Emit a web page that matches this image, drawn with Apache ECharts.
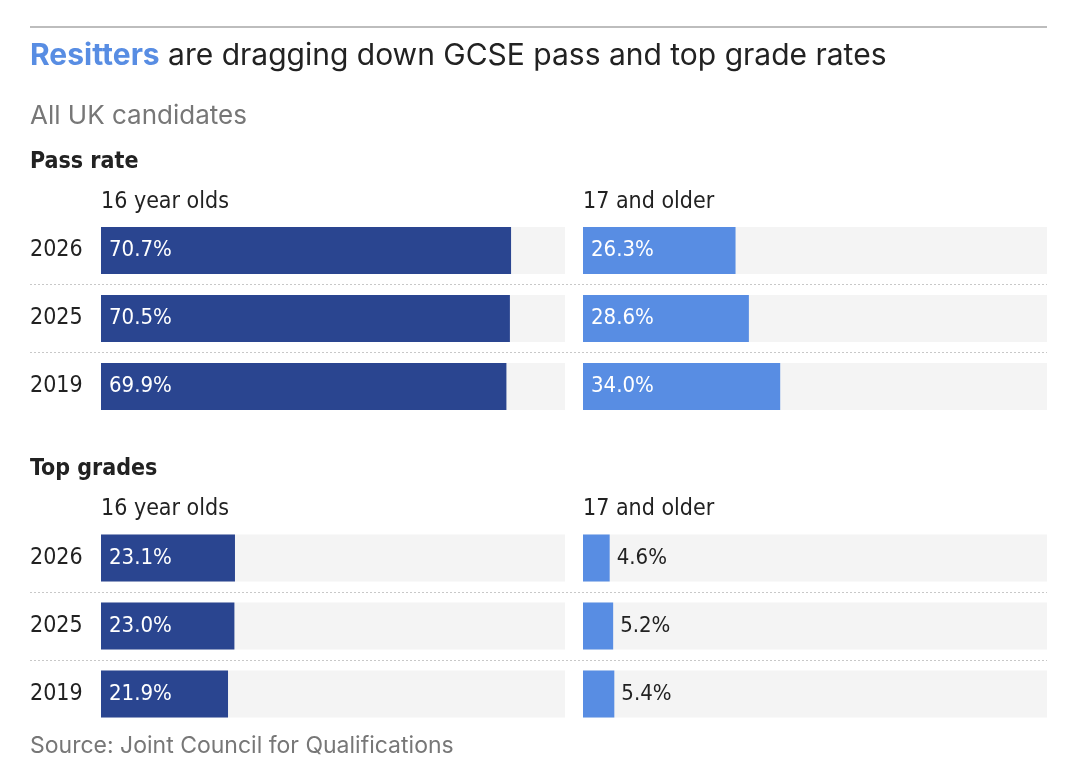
<!DOCTYPE html>
<html>
<head>
<meta charset="utf-8">
<script src="https://cdn.jsdelivr.net/npm/echarts@6/dist/echarts.min.js"></script>
<style>
  html, body { margin: 0; padding: 0; background: #fff; }
  #chart { width: 1080px; height: 780px; }
</style>
</head>
<body>
<div id="chart"></div>
<script>
const years = ['2026', '2025', '2019'];
const passYoung = [70.7, 70.5, 69.9];
const passOld = [26.3, 28.6, 34.0];
const topYoung = [23.1, 23.0, 21.9];
const topOld = [4.6, 5.2, 5.4];

// canvas font shorthand takes a stretch keyword after the weight
const NARROW = '"DejaVu Sans", sans-serif';
const REG = 'normal condensed';
const BOLD = 'bold condensed';
const SANS = 'Inter, Roboto, sans-serif';
const DARK = '#2a4590';
const LIGHT = '#588de3';

const chart = echarts.init(document.getElementById('chart'));

// bars too short for an inside label get it to the right in dark text
function barData(values) {
    return values.map(v => v < 10 ? {
        value: v,
        label: { position: 'right', color: '#222', distance: 7 }
    } : v);
}

function barSeries(values, color, idx) {
    return {
        type: 'bar',
        xAxisIndex: idx,
        yAxisIndex: idx,
        barWidth: 47,
        data: barData(values),
        itemStyle: { color: color },
        showBackground: true,
        backgroundStyle: { color: '#f4f4f4' },
        silent: true,
        label: {
            show: true,
            position: 'insideLeft',
            distance: 8,
            color: '#fff',
            fontFamily: NARROW,
            fontWeight: REG,
            fontSize: 22,
            formatter: p => p.value.toFixed(1) + '%'
        }
    };
}

const tops = [216.5, 216.5, 524, 524, 216.5, 524];
const lefts = [101, 583, 101, 583, 30, 30];
const widths = [464, 464, 464, 464, 1017, 1017];

const grid = tops.map((t, i) => ({ left: lefts[i], top: t, width: widths[i], height: 204 }));

const xAxis = grid.map((g, i) => ({
    type: 'value', gridIndex: i, min: 0, max: 80, show: false
}));

const yAxis = grid.map((g, i) => {
    if (i < 4) {
        return { type: 'category', gridIndex: i, data: years, inverse: true, show: false };
    }
    return {
        type: 'category',
        gridIndex: i,
        data: years,
        inverse: true,
        axisLine: { show: false },
        axisTick: { show: false },
        axisLabel: {
            inside: true,
            margin: 0,
            align: 'left',
            color: '#222',
            fontFamily: NARROW,
            fontWeight: REG,
            fontSize: 23
        },
        splitLine: {
            show: true,
            showMinLine: false,
            showMaxLine: false,
            lineStyle: { type: [2, 2], color: '#c8c8c8', width: 1 }
        }
    };
});

function label(text, left, top, size, color, weight, family) {
    return {
        text: text, left: left, top: top, padding: 0,
        textStyle: { fontSize: size, color: color, fontWeight: weight || REG, fontFamily: family || NARROW }
    };
}

const option = {
    animation: false,
    title: [
        {
            text: '{hl|Resitters} are dragging down GCSE pass and top grade rates',
            left: 30, top: 41, padding: 0,
            textStyle: {
                fontSize: 30, color: '#222', fontWeight: 'normal', fontFamily: SANS,
                rich: { hl: { fontSize: 30, color: LIGHT, fontWeight: 'bold', fontFamily: SANS } }
            }
        },
        label('All UK candidates', 30, 103, 26, '#777', 'normal', SANS),
        label('Pass rate', 30, 151, 23, '#222', BOLD),
        label('16 year olds', 101, 191, 23, '#222'),
        label('17 and older', 583, 191, 23, '#222'),
        label('Top grades', 30, 458, 23, '#222', BOLD),
        label('16 year olds', 101, 498, 23, '#222'),
        label('17 and older', 583, 498, 23, '#222'),
        label('Source: Joint Council for Qualifications', 30, 735, 23, '#777', 'normal', SANS)
    ],
    graphic: [{
        type: 'line',
        shape: { x1: 30, y1: 27, x2: 1047, y2: 27 },
        style: { stroke: '#bdbdbd', lineWidth: 2 }
    }],
    grid: grid,
    xAxis: xAxis,
    yAxis: yAxis,
    series: [
        barSeries(passYoung, DARK, 0),
        barSeries(passOld, LIGHT, 1),
        barSeries(topYoung, DARK, 2),
        barSeries(topOld, LIGHT, 3)
    ]
};

chart.setOption(option);
</script>
</body>
</html>
